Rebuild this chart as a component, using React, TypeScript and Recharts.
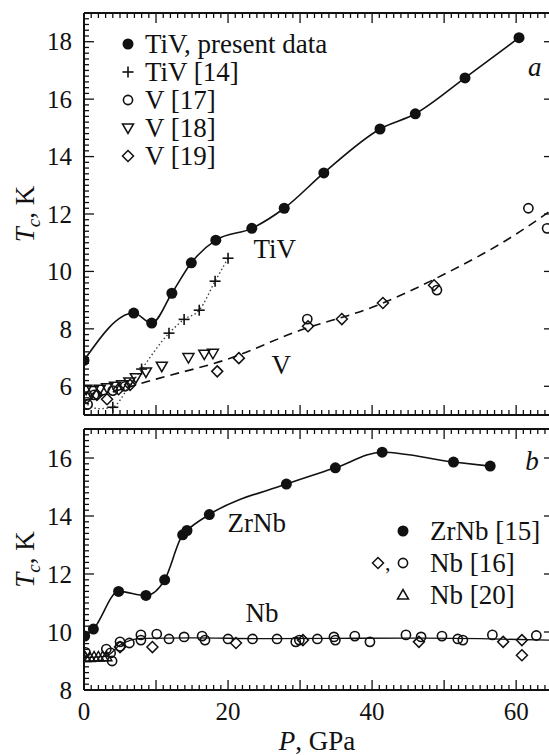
import React from "react";
import {
  ComposedChart,
  Line,
  Scatter,
  XAxis,
  YAxis,
  ReferenceLine,
  ReferenceDot,
  Legend,
  Label,
} from "recharts";

const FONT = "'Liberation Serif', 'Times New Roman', Tinos, Times, 'DejaVu Serif', 'Noto Serif', serif";
const INK = "#111";

// ---- panel a: TiV and V ----
const tivP = [0, 6.9, 9.4, 12.2, 14.9, 18.3, 23.3, 27.8, 33.3, 41.1, 46.0, 52.9, 60.4];
const tivT = [6.9, 8.55, 8.2, 9.24, 10.3, 11.09, 11.5, 12.2, 13.43, 14.96, 15.49, 16.74, 18.14];

const tiv14P = [4.0, 8.0, 11.8, 13.9, 16.0, 18.2, 20.0];
const tiv14T = [5.27, 6.6, 7.85, 8.33, 8.65, 9.66, 10.46];
// dotted guide through the TiV [14] crosses
const tiv14CurveP = [0, 2, 4.0, 6.0, 8.0, 11.8, 13.9, 16.0, 18.2, 20.0];
const tiv14CurveT = [5.45, 5.22, 5.27, 5.9, 6.6, 7.85, 8.33, 8.65, 9.66, 10.46];

const v17P = [0.5, 1.4, 4.0, 5.7, 31.0, 49.0, 61.7, 64.3];
const v17T = [5.37, 5.7, 5.85, 6.0, 8.34, 9.35, 12.2, 11.5];

const v18P = [0.3, 1.2, 2.2, 3.2, 4.3, 5.3, 6.3, 7.2, 8.6, 10.8, 14.5, 16.7, 17.9];
const v18T = [5.9, 5.85, 5.9, 5.95, 6.0, 6.05, 6.15, 6.3, 6.5, 6.7, 7.0, 7.12, 7.15];

const v19P = [0.4, 1.8, 3.2, 4.8, 6.4, 18.5, 21.5, 31.1, 35.8, 41.5, 48.6];
const v19T = [5.6, 5.7, 5.55, 5.9, 6.05, 6.52, 6.98, 8.09, 8.34, 8.9, 9.52];

// dashed V guide
const vCurveP = [0, 10, 20, 30, 40, 50, 60, 64.7];
const vCurveT = [5.5, 6.25, 6.95, 7.95, 8.75, 9.9, 11.3, 12.1];

// ---- panel b: ZrNb and Nb ----
const zrnbP = [0.1, 1.3, 4.8, 8.6, 11.2, 13.7, 14.3, 17.4, 28.1, 34.9, 41.4, 51.3, 56.4];
const zrnbT = [9.86, 10.1, 11.4, 11.26, 11.8, 13.35, 13.5, 14.05, 15.1, 15.66, 16.2, 15.86, 15.72];

const nb16CircP = [0.2, 3.1, 3.7, 3.9, 5.0, 5.0, 6.3, 7.9, 7.9, 10.1, 11.8, 13.9, 16.4, 16.8, 20.0, 23.4, 26.8, 29.4, 29.9, 32.4, 34.7, 34.9, 37.6, 39.7, 44.7, 46.8, 49.7, 51.9, 52.6, 56.7, 62.8];
const nb16CircT = [9.3, 9.41, 9.28, 9.0, 9.66, 9.5, 9.62, 9.9, 9.72, 9.93, 9.76, 9.83, 9.86, 9.72, 9.76, 9.76, 9.76, 9.66, 9.72, 9.76, 9.83, 9.72, 9.86, 9.66, 9.9, 9.83, 9.86, 9.76, 9.72, 9.9, 9.88];

const nb16DiaP = [5.0, 9.5, 21.1, 30.4, 46.5, 58.2, 60.8, 60.8];
const nb16DiaT = [9.48, 9.48, 9.62, 9.72, 9.66, 9.66, 9.72, 9.2];

const nb20P = [0.2, 0.8, 1.4, 2.0, 2.6, 3.1];
const nb20T = [9.12, 9.12, 9.14, 9.14, 9.15, 9.15];

const nbCurveP = [0, 3, 5, 8, 15, 25, 35, 45, 55, 64.7];
const nbCurveT = [9.12, 9.16, 9.55, 9.78, 9.8, 9.77, 9.78, 9.79, 9.77, 9.72];

// axis ticks
const xTicks = Array.from({ length: 65 }, (_, i) => i);
const yTicksA = Array.from({ length: 71 }, (_, i) => Math.round((5 + i * 0.2) * 10) / 10);
const yTicksB = Array.from({ length: 46 }, (_, i) => Math.round((8 + i * 0.2) * 10) / 10);

const pts = (p: number[], t: number[]) => p.map((v, i) => ({ p: v, t: t[i] }));

type Kind = "filled" | "open" | "plus" | "down" | "up" | "diamond";

function symbol(kind: Kind, cx: number, cy: number) {
  const s = 5.5;
  switch (kind) {
    case "filled":
      return <circle cx={cx} cy={cy} r={5.5} fill={INK} />;
    case "open":
      return <circle cx={cx} cy={cy} r={4.6} fill="none" stroke={INK} strokeWidth={1.6} />;
    case "plus":
      return (
        <g stroke={INK} strokeWidth={1.6}>
          <line x1={cx - s} y1={cy} x2={cx + s} y2={cy} />
          <line x1={cx} y1={cy - s} x2={cx} y2={cy + s} />
        </g>
      );
    case "down":
      return (
        <polygon
          points={`${cx - s},${cy - 4} ${cx + s},${cy - 4} ${cx},${cy + s}`}
          fill="none" stroke={INK} strokeWidth={1.5}
        />
      );
    case "up":
      return (
        <polygon
          points={`${cx - s},${cy + 4} ${cx + s},${cy + 4} ${cx},${cy - s}`}
          fill="none" stroke={INK} strokeWidth={1.5}
        />
      );
    case "diamond":
      return (
        <polygon
          points={`${cx},${cy - s} ${cx + s},${cy} ${cx},${cy + s} ${cx - s},${cy}`}
          fill="none" stroke={INK} strokeWidth={1.5}
        />
      );
  }
}

const shapeOf = (kind: Kind) => (props: any) => symbol(kind, props.cx, props.cy);

const textAt = (s: string, italic = false) => (props: any) => (
  <text
    x={props.cx} y={props.cy} dy="0.35em" textAnchor="middle"
    style={{ fontFamily: FONT }} fontSize={27} fontStyle={italic ? "italic" : "normal"} fill={INK}
  >
    {s}
  </text>
);

function makeXTick(plotH: number, labels: boolean) {
  return (props: any) => {
    const { x, y, payload } = props;
    const v = payload.value;
    const len = v % 10 === 0 ? 10 : 5;
    return (
      <g>
        <line x1={x} y1={y} x2={x} y2={y - len} stroke={INK} strokeWidth={1.3} />
        <line x1={x} y1={y - plotH} x2={x} y2={y - plotH + len} stroke={INK} strokeWidth={1.3} />
        {labels && v % 20 === 0 && (
          <text x={x} y={y + 30} textAnchor="middle" style={{ fontFamily: FONT }} fontSize={25} fill={INK}>
            {v}
          </text>
        )}
      </g>
    );
  };
}

function makeYTick(plotW: number) {
  return (props: any) => {
    const { x, y, payload } = props;
    const v = payload.value;
    const major = Math.abs(v / 2 - Math.round(v / 2)) < 1e-6;
    const len = major ? 10 : 5;
    return (
      <g>
        <line x1={x} y1={y} x2={x + len} y2={y} stroke={INK} strokeWidth={1.3} />
        {major && <line x1={x + plotW - 6} y1={y} x2={x + plotW} y2={y} stroke={INK} strokeWidth={1.3} />}
        {major && (
          <text x={x - 12} y={y} dy="0.35em" textAnchor="end" style={{ fontFamily: FONT }} fontSize={25} fill={INK}>
            {v}
          </text>
        )}
      </g>
    );
  };
}

const yTitle = (props: any) => {
  const vb = props.viewBox;
  const cx = vb.x + 25;
  const cy = vb.y + vb.height / 2;
  return (
    <text
      x={cx} y={cy} dy="0.35em" textAnchor="middle" transform={`rotate(-90 ${cx} ${cy})`}
      style={{ fontFamily: FONT }} fontSize={27} fill={INK}
    >
      <tspan fontStyle="italic">T</tspan>
      <tspan fontStyle="italic" fontSize={19} dy={6}>c</tspan>
      <tspan dy={-6}>, K</tspan>
    </text>
  );
};

const xTitle = (props: any) => {
  const vb = props.viewBox;
  return (
    <text x={vb.x + vb.width / 2} y={vb.y + 60} textAnchor="middle" style={{ fontFamily: FONT }} fontSize={27} fill={INK}>
      <tspan fontStyle="italic">P</tspan>, GPa
    </text>
  );
};

const N_TIV = "TiV, present data";
const N_TIV14 = "TiV [14]";
const N_V17 = "V [17]";
const N_V18 = "V [18]";
const N_V19 = "V [19]";
const N_ZRNB = "ZrNb [15]";
const N_NB16 = "Nb [16]";
const N_NB20 = "Nb [20]";

const rowsA: [Kind, string][] = [
  ["filled", N_TIV],
  ["plus", N_TIV14],
  ["open", N_V17],
  ["down", N_V18],
  ["diamond", N_V19],
];

const rowsB: [Kind[], string][] = [
  [["filled"], N_ZRNB],
  [["diamond", "open"], N_NB16],
  [["up"], N_NB20],
];

function LegendA() {
  return (
    <div style={{ fontFamily: FONT, fontSize: 27, color: INK }}>
      {rowsA.map(([k, label]) => (
        <div key={label} style={{ display: "flex", alignItems: "center", height: 28 }}>
          <svg width={20} height={20}>{symbol(k, 10, 10)}</svg>
          <span style={{ marginLeft: 7, lineHeight: "28px", whiteSpace: "nowrap" }}>{label}</span>
        </div>
      ))}
    </div>
  );
}

function LegendB() {
  return (
    <div style={{ fontFamily: FONT, fontSize: 27, color: INK }}>
      {rowsB.map(([kinds, label]) => (
        <div key={label} style={{ display: "flex", alignItems: "center", height: 32 }}>
          <div style={{ width: 48, display: "flex", alignItems: "center", justifyContent: "flex-end" }}>
            {kinds.length === 2 && (
              <>
                <svg width={14} height={20}>{symbol(kinds[0], 7, 10)}</svg>
                <span style={{ fontSize: 22, lineHeight: "20px", width: 10 }}>,</span>
              </>
            )}
            <svg width={16} height={20}>{symbol(kinds[kinds.length - 1], 8, 10)}</svg>
          </div>
          <span style={{ marginLeft: 19, lineHeight: "32px", whiteSpace: "nowrap" }}>{label}</span>
        </div>
      ))}
    </div>
  );
}

const W = 552;
const PLOT_W = 466;
const X_MAX = 64.7;

export default function App() {
  const axisLine = { stroke: INK, strokeWidth: 2 };
  return (
    <div style={{ position: "absolute", left: 0, top: 0, width: 549, height: 755, overflow: "hidden", background: "#fff", fontFamily: FONT }}>
      <div style={{ position: "absolute", left: 0, top: 0 }}>
        <ComposedChart width={W} height={420} margin={{ top: 13, right: 2, left: 0, bottom: 0 }}>
          <XAxis
            dataKey="p" type="number" domain={[0, X_MAX]} ticks={xTicks} interval={0}
            height={5} tickSize={0} tickMargin={0} tickLine={false} axisLine={axisLine}
            tick={makeXTick(402, false)} allowDataOverflow
          />
          <YAxis
            type="number" domain={[5, 19]} ticks={yTicksA} interval={0} width={84}
            tickSize={0} tickMargin={0} tickLine={false} axisLine={axisLine}
            tick={makeYTick(PLOT_W)} allowDataOverflow
            label={<Label content={yTitle} />}
          />
          <ReferenceLine y={19} stroke={INK} strokeWidth={2} ifOverflow="visible" />
          <ReferenceLine x={X_MAX} stroke={INK} strokeWidth={2} ifOverflow="visible" />
          <Line data={pts(vCurveP, vCurveT)} dataKey="t" type="monotone" stroke={INK} strokeWidth={1.6}
            strokeDasharray="9 6" dot={false} activeDot={false} legendType="none" isAnimationActive={false} />
          <Line data={pts(tiv14CurveP, tiv14CurveT)} dataKey="t" type="monotone" stroke="#444" strokeWidth={1.4}
            strokeDasharray="1.5 2.5" dot={false} activeDot={false} legendType="none" isAnimationActive={false} />
          <Line data={pts(tivP, tivT)} dataKey="t" type="monotone" stroke={INK} strokeWidth={1.6}
            dot={false} activeDot={false} legendType="none" isAnimationActive={false} />
          <Scatter name={N_V18} data={pts(v18P, v18T)} dataKey="t" shape={shapeOf("down")} isAnimationActive={false} />
          <Scatter name={N_V19} data={pts(v19P, v19T)} dataKey="t" shape={shapeOf("diamond")} isAnimationActive={false} />
          <Scatter name={N_V17} data={pts(v17P, v17T)} dataKey="t" shape={shapeOf("open")} isAnimationActive={false} />
          <Scatter name={N_TIV14} data={pts(tiv14P, tiv14T)} dataKey="t" shape={shapeOf("plus")} isAnimationActive={false} />
          <Scatter name={N_TIV} data={pts(tivP, tivT)} dataKey="t" shape={shapeOf("filled")} isAnimationActive={false} />
          <ReferenceDot x={26.5} y={10.78} shape={textAt("TiV")} />
          <ReferenceDot x={27.4} y={6.77} shape={textAt("V")} />
          <ReferenceDot x={62.6} y={17.13} shape={textAt("a", true)} />
          <Legend content={<LegendA />} layout="vertical" align="center" verticalAlign="middle"
            wrapperStyle={{ left: 118, top: 30 }} />
        </ComposedChart>
      </div>
      <div style={{ position: "absolute", left: 0, top: 420 }}>
        <ComposedChart width={W} height={335} margin={{ top: 9, right: 2, left: 0, bottom: 0 }}>
          <XAxis
            dataKey="p" type="number" domain={[0, X_MAX]} ticks={xTicks} interval={0}
            height={65} tickSize={0} tickMargin={0} tickLine={false} axisLine={axisLine}
            tick={makeXTick(261, true)} allowDataOverflow
            label={<Label content={xTitle} />}
          />
          <YAxis
            type="number" domain={[8, 17]} ticks={yTicksB} interval={0} width={84}
            tickSize={0} tickMargin={0} tickLine={false} axisLine={axisLine}
            tick={makeYTick(PLOT_W)} allowDataOverflow
            label={<Label content={yTitle} />}
          />
          <ReferenceLine y={17} stroke={INK} strokeWidth={2} ifOverflow="visible" />
          <ReferenceLine x={X_MAX} stroke={INK} strokeWidth={2} ifOverflow="visible" />
          <Line data={pts(nbCurveP, nbCurveT)} dataKey="t" type="monotone" stroke={INK} strokeWidth={1.3}
            dot={false} activeDot={false} legendType="none" isAnimationActive={false} />
          <Line data={pts(zrnbP, zrnbT)} dataKey="t" type="monotone" stroke={INK} strokeWidth={1.6}
            dot={false} activeDot={false} legendType="none" isAnimationActive={false} />
          <Scatter name={N_NB20} data={pts(nb20P, nb20T)} dataKey="t" shape={shapeOf("up")} isAnimationActive={false} />
          <Scatter name={N_NB16} data={pts(nb16DiaP, nb16DiaT)} dataKey="t" shape={shapeOf("diamond")} isAnimationActive={false} />
          <Scatter name={N_NB16 + " "} data={pts(nb16CircP, nb16CircT)} dataKey="t" shape={shapeOf("open")} isAnimationActive={false} />
          <Scatter name={N_ZRNB} data={pts(zrnbP, zrnbT)} dataKey="t" shape={shapeOf("filled")} isAnimationActive={false} />
          <ReferenceDot x={24.0} y={13.79} shape={textAt("ZrNb")} />
          <ReferenceDot x={24.7} y={10.66} shape={textAt("Nb")} />
          <ReferenceDot x={62.2} y={15.9} shape={textAt("b", true)} />
          <Legend content={<LegendB />} layout="vertical" align="center" verticalAlign="middle"
            wrapperStyle={{ left: 363, top: 95 }} />
        </ComposedChart>
      </div>
    </div>
  );
}
